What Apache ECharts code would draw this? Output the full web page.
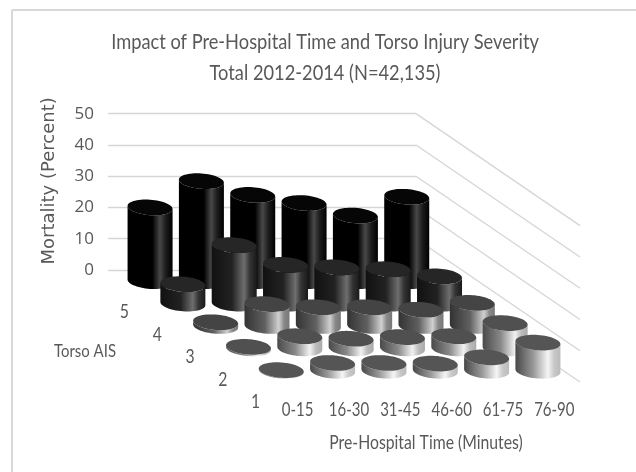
<!DOCTYPE html>
<html>
<head>
<meta charset="utf-8">
<title>Impact of Pre-Hospital Time and Torso Injury Severity</title>
<script src="https://cdn.jsdelivr.net/npm/echarts@6/dist/echarts.min.js"></script>
<style>
  html, body { margin: 0; padding: 0; background: #fff; }
  #chart { width: 636px; height: 472px; filter: blur(0.45px); }
</style>
</head>
<body>
<div id="chart"></div>
<script>
// categories
var timeLabels = ["0-15", "16-30", "31-45", "46-60", "61-75", "76-90"];
var aisLabels = ["5", "4", "3", "2", "1"];   // back row first
var mortalityTicks = [0, 10, 20, 30, 40, 50];

// mortality in percent, one array per torso AIS
var ais5 = [23.6, 32, 27.6, 25, 21, 27];
var ais4 = [6.2, 18.7, 12.4, 11.6, 11, 8.7];
var ais3 = [1.2, 7, 6, 6, 5.2, 7.4];
var ais2 = [0.5, 3.9, 3.1, 3.6, 3.9, 8.1];
var ais1 = [0.2, 2.5, 2.5, 2.3, 4.3, 9];
var rows = [ais5, ais4, ais3, ais2, ais1];

// side shading per row, left to right
var sideStops = [
  [[0, "#000"], [0.55, "#000"], [0.72, "#484848"], [0.85, "#1c1c1c"], [1, "#000"]],
  [[0, "#111"], [0.45, "#222"], [0.72, "#6e6e6e"], [0.85, "#333"], [1, "#1a1a1a"]],
  [[0, "#333"], [0.45, "#606060"], [0.76, "#d0d0d0"], [0.88, "#888"], [1, "#777"]],
  [[0, "#4a4a4a"], [0.4, "#888"], [0.72, "#f2f2f2"], [0.86, "#bbb"], [1, "#aaa"]],
  [[0, "#484848"], [0.4, "#999"], [0.72, "#f5f5f5"], [0.86, "#c8c8c8"], [1, "#bbb"]]
];
var topColors = ["#060606", "#262626", "#444", "#505050", "#555"];
var textColor = "#595959";

// floor projection, pixels per AIS row going to the front
var rowDx = 32.8, rowDy = 22.4;
var capA = 22.5, capB = 7.7, capTilt = 0.07;

function depth(pt, r) {
  return [pt[0] + r * rowDx, pt[1] + r * rowDy];
}

function ringPoint(c, t) {
  return [c[0] + capA * Math.cos(t), c[1] + capB * Math.sin(t) + capTilt * capA * Math.cos(t)];
}

// Calibri is not installed: Lato squeezed sideways gets close to it
function condensed(x, y, text, size, squeeze) {
  return {
    type: "text", x: x, y: y, scaleX: squeeze,
    style: { text: text, fill: textColor, font: size + "px Lato", align: "center", verticalAlign: "middle" }
  };
}

function renderCylinder(params, api) {
  var col = api.value(0), row = api.value(1), val = api.value(2);
  var base = depth(api.coord([col + 0.5, 0]), row + 0.5);
  var top = depth(api.coord([col + 0.5, val]), row + 0.5);
  var side = [], cap = [], i;
  for (i = 0; i <= 30; i++) side.push(ringPoint(base, Math.PI * i / 30));
  for (i = 30; i >= 0; i--) side.push(ringPoint(top, Math.PI * i / 30));
  for (i = 0; i < 60; i++) cap.push(ringPoint(top, Math.PI * 2 * i / 60));
  var stops = sideStops[row].map(function (s) { return { offset: s[0], color: s[1] }; });
  return {
    type: "group",
    children: [
      { type: "polygon", shape: { points: side }, style: { fill: new echarts.graphic.LinearGradient(0, 0, 1, 0, stops) } },
      { type: "polygon", shape: { points: cap }, style: { fill: topColors[row] } }
    ]
  };
}

// right wall gridlines run from the back wall to the front of the floor
function renderWallLine(params, api) {
  var a = api.coord([timeLabels.length, api.value(0)]);
  var b = depth(a, aisLabels.length);
  return { type: "line", shape: { x1: a[0], y1: a[1], x2: b[0], y2: b[1] }, style: { stroke: "#d6d6d6", lineWidth: 1.4 } };
}

// AIS labels sit along the left edge of the floor
function renderAisLabel(params, api) {
  var p = depth(api.coord([0, 0]), api.value(0) + 0.5);
  return condensed(p[0], p[1] + 31, aisLabels[api.value(0)], 19, 0.83);
}

// time labels sit along the front edge of the floor
function renderTimeLabel(params, api) {
  var p = depth(api.coord([api.value(0) + 0.5, 0]), aisLabels.length);
  return condensed(p[0], p[1] + 28, timeLabels[api.value(0)], 19, 0.79);
}

var cylinders = [];
rows.forEach(function (vals, r) {
  vals.forEach(function (v, c) { cylinders.push([c, r, v]); });
});

var chart = echarts.init(document.getElementById("chart"), null, { renderer: "canvas" });
chart.setOption({
  animation: false,
  backgroundColor: "#fff",
  graphic: [
    { type: "line", shape: { x1: 12, y1: 10, x2: 636, y2: 10 }, style: { stroke: "#d9d9d9", lineWidth: 2 } },
    { type: "line", shape: { x1: 12, y1: 10, x2: 12, y2: 472 }, style: { stroke: "#d9d9d9", lineWidth: 2 } },
    condensed(325, 42, "Impact of Pre-Hospital Time and Torso Injury Severity", 22, 0.83),
    condensed(325, 73, "Total 2012-2014 (N=42,135)", 22, 0.83),
    condensed(85, 351, "Torso AIS", 18, 0.83),
    condensed(426, 443, "Pre-Hospital Time (Minutes)", 19, 0.83)
  ],
  grid: { left: 108, right: 220, top: 113.7, height: 156.3 },   // back wall
  xAxis: { type: "value", min: 0, max: 6, show: false },
  yAxis: {
    type: "value", min: 0, max: 50, interval: 10,
    name: "Mortality (Percent)", nameLocation: "middle", nameGap: 50, nameRotate: 90,
    nameTextStyle: { color: textColor, fontFamily: "DejaVu Sans", fontSize: 18, padding: [0, 0, 0, 22] },
    axisLine: { show: false }, axisTick: { show: false },
    axisLabel: { color: textColor, fontFamily: "Open Sans", fontSize: 17, margin: 14, padding: [3, 0, 0, 0] },
    splitLine: { lineStyle: { color: "#d6d6d6", width: 1.4 } }
  },
  series: [
    { type: "custom", z: 1, silent: true, renderItem: renderWallLine, data: mortalityTicks.map(function (t) { return [t]; }) },
    { type: "custom", z: 2, silent: true, renderItem: renderCylinder, data: cylinders, encode: { x: 0, y: 2 } },
    { type: "custom", z: 2, silent: true, renderItem: renderAisLabel, data: aisLabels.map(function (l, i) { return [i]; }) },
    { type: "custom", z: 2, silent: true, renderItem: renderTimeLabel, data: timeLabels.map(function (l, i) { return [i]; }) }
  ]
});
</script>
</body>
</html>
